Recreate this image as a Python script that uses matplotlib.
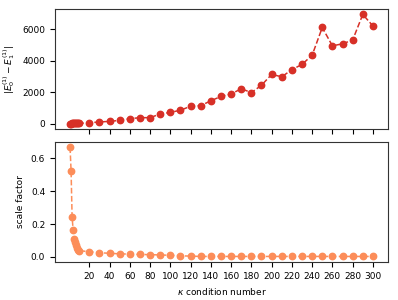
import matplotlib
matplotlib.use("Agg")
import matplotlib.pyplot as plt

kappa = [1, 2, 3, 4, 5, 6, 7, 8, 9, 10,
         20, 30, 40, 50, 60, 70, 80, 90, 100, 110, 120, 130, 140, 150,
         160, 170, 180, 190, 200, 210, 220, 230, 240, 250, 260, 270, 280, 290, 300]

energy_gap = [2, 3, 4, 5, 6, 7, 8, 9, 10, 12,
              50, 100, 140, 200, 310, 375, 375, 610, 710, 850, 1100, 1140, 1450, 1730,
              1880, 2220, 1970, 2440, 3130, 2980, 3430, 3770, 4350, 6120, 4950, 5080, 5320, 6950, 6220]

scale_factor = [0.666, 0.523, 0.245, 0.165, 0.111, 0.09, 0.07, 0.055, 0.045, 0.038,
                0.032, 0.026, 0.022, 0.019, 0.017, 0.015, 0.014, 0.012, 0.010, 0.007, 0.005, 0.003, 0.003, 0.003,
                0.003, 0.003, 0.003, 0.003, 0.003, 0.003, 0.003, 0.003, 0.003, 0.003, 0.003, 0.003, 0.003, 0.003, 0.003]

xticks = list(range(20, 301, 20))

plt.rcParams['font.size'] = 6.5

fig, (ax1, ax2) = plt.subplots(2, 1, figsize=(3.98, 3.0), dpi=100, sharex=True)
fig.subplots_adjust(left=0.138, right=0.975, top=0.97, bottom=0.127, hspace=0.108)

ax1.plot(kappa, energy_gap, '--o', color='#d73027', markersize=4.6, linewidth=1.1)
ax1.set_ylabel(r'$|E_0^{(1)} - E_1^{(1)}|$')
ax1.set_yticks([0, 2000, 4000, 6000])

ax2.plot(kappa, scale_factor, '--o', color='#fc8d59', markersize=4.6, linewidth=1.1)
ax2.set_ylabel('scale factor')
ax2.set_xlabel(r'$\kappa$ condition number')
ax2.set_yticks([0.0, 0.2, 0.4, 0.6])
ax2.set_xticks(xticks)
ax1.tick_params(labelbottom=False)

for ax in (ax1, ax2):
    for s in ax.spines.values():
        s.set_color('#333333')

fig.savefig('out.png', dpi=100)
